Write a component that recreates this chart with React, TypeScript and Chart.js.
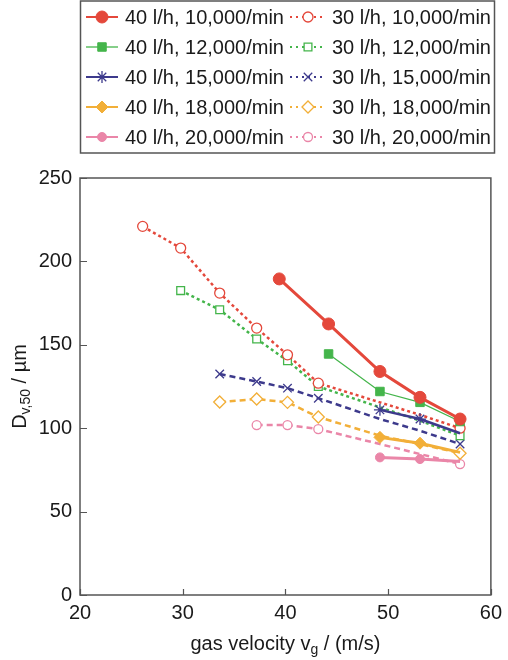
import React, { useEffect, useRef } from "react";
import { Chart, registerables } from "chart.js";
import { drawPoint } from "chart.js/helpers";

Chart.register(...registerables);

// ---- axis ticks ----
const xTicks = [20, 30, 40, 50, 60];
const yTicks = [0, 50, 100, 150, 200, 250];

// ---- legend labels ----
const labels40 = [
  "40 l/h, 10,000/min",
  "40 l/h, 12,000/min",
  "40 l/h, 15,000/min",
  "40 l/h, 18,000/min",
  "40 l/h, 20,000/min",
];
const labels30 = [
  "30 l/h, 10,000/min",
  "30 l/h, 12,000/min",
  "30 l/h, 15,000/min",
  "30 l/h, 18,000/min",
  "30 l/h, 20,000/min",
];

// ---- 40 l/h series (gas velocity, Dv50) ----
const v40_10k = [39.4, 44.2, 49.2, 53.1, 57.0];
const d40_10k = [189.5, 162.5, 134, 118.5, 105.5];
const v40_12k = [44.2, 49.2, 53.1, 57.0];
const d40_12k = [144.5, 122, 115.5, 104];
const v40_15k = [49.2, 53.1, 57.0];
const d40_15k = [111, 105.5, 97];
const v40_18k = [49.2, 53.1, 57.0];
const d40_18k = [94.5, 91, 85.5];
const v40_20k = [49.2, 53.1, 57.0];
const d40_20k = [82.5, 81.5, 80];

// ---- 30 l/h series ----
const v30_10k = [26.1, 29.8, 33.6, 37.2, 40.2, 43.2, 49.2, 53.1, 57.0];
const d30_10k = [221, 208, 181, 160, 144, 127, 115.5, 108, 100];
const v30_12k = [29.8, 33.6, 37.2, 40.2, 43.2, 49.2, 53.1, 57.0];
const d30_12k = [182.5, 171, 153.5, 140.5, 125, 112.5, 104.5, 95.5];
const v30_15k = [33.6, 37.2, 40.2, 43.2, 49.2, 53.1, 57.0];
const d30_15k = [132.5, 128, 124, 118, 105.5, 98.5, 90.5];
const v30_18k = [33.6, 37.2, 40.2, 43.2, 49.2, 53.1, 57.0];
const d30_18k = [115.7, 117.5, 115.5, 106.7, 95.5, 90.5, 85];
const v30_20k = [37.2, 40.2, 43.2, 49.2, 53.1, 57.0];
const d30_20k = [101.9, 101.9, 99.5, 90.5, 84.5, 78.5];

// indices of points whose marker is not visible in the reference
const hidden40_15k = [2];
const hidden40_18k = [2];
const hidden40_20k = [2];
const hidden30_10k = [6, 7];
const hidden30_12k = [5, 6];
const hidden30_15k = [4, 5];
const hidden30_18k = [4, 5];
const hidden30_20k = [3, 4];

const RED = "#e4483b";
const GREEN = "#44b54b";
const BLUE = "#3d3a8c";
const ORANGE = "#f2af38";
const PINK = "#ea86a8";

const FONT = "'Liberation Sans', Arial, sans-serif";

type S = {
  label: string;
  xs: number[];
  ys: number[];
  hidden: number[];
  color: string;
  width: number;
  dash: number[];
  style: string;
  radius: number;
  filled: boolean;
  pbw: number;
};

const series40: S[] = [
  { label: labels40[0], xs: v40_10k, ys: d40_10k, hidden: [], color: RED, width: 3, dash: [], style: "circle", radius: 6, filled: true, pbw: 1 },
  { label: labels40[1], xs: v40_12k, ys: d40_12k, hidden: [], color: GREEN, width: 1.3, dash: [], style: "rect", radius: 6, filled: true, pbw: 1 },
  { label: labels40[2], xs: v40_15k, ys: d40_15k, hidden: hidden40_15k, color: BLUE, width: 2.5, dash: [], style: "star", radius: 6, filled: false, pbw: 1.3 },
  { label: labels40[3], xs: v40_18k, ys: d40_18k, hidden: hidden40_18k, color: ORANGE, width: 3, dash: [], style: "rectRot", radius: 6, filled: true, pbw: 1 },
  { label: labels40[4], xs: v40_20k, ys: d40_20k, hidden: hidden40_20k, color: PINK, width: 3, dash: [], style: "circle", radius: 4.5, filled: true, pbw: 1 },
];
const series30: S[] = [
  { label: labels30[0], xs: v30_10k, ys: d30_10k, hidden: hidden30_10k, color: RED, width: 2.5, dash: [3, 3], style: "circle", radius: 5, filled: false, pbw: 1.3 },
  { label: labels30[1], xs: v30_12k, ys: d30_12k, hidden: hidden30_12k, color: GREEN, width: 2.5, dash: [3, 3], style: "rect", radius: 5.5, filled: false, pbw: 1.3 },
  { label: labels30[2], xs: v30_15k, ys: d30_15k, hidden: hidden30_15k, color: BLUE, width: 2.5, dash: [6, 4], style: "crossRot", radius: 6, filled: false, pbw: 1.3 },
  { label: labels30[3], xs: v30_18k, ys: d30_18k, hidden: hidden30_18k, color: ORANGE, width: 2.5, dash: [6, 4], style: "rectRot", radius: 6, filled: false, pbw: 1.3 },
  { label: labels30[4], xs: v30_20k, ys: d30_20k, hidden: hidden30_20k, color: PINK, width: 2.5, dash: [6, 4], style: "circle", radius: 4.5, filled: false, pbw: 1.3 },
];

function toDataset(s: S) {
  return {
    label: s.label,
    data: s.xs.map((x, i) => ({ x, y: s.ys[i] })),
    borderColor: s.color,
    backgroundColor: s.filled ? s.color : "#ffffff",
    borderWidth: s.width,
    borderDash: s.dash,
    pointStyle: s.style,
    pointRadius: s.hidden.length
      ? (c: any) => (s.hidden.includes(c.dataIndex) ? 0 : s.radius)
      : s.radius,
    pointBorderColor: s.color,
    pointBackgroundColor: s.filled ? s.color : "#ffffff",
    pointBorderWidth: s.pbw,
    tension: 0,
    fill: false,
  };
}

const framePlugin = {
  id: "frame",
  beforeDatasetsDraw(chart: any) {
    const { ctx, chartArea: a, scales } = chart;
    ctx.save();
    ctx.strokeStyle = "#555";
    ctx.lineWidth = 1.5;
    ctx.strokeRect(a.left, a.top, a.right - a.left, a.bottom - a.top);
    ctx.lineWidth = 1.2;
    ctx.beginPath();
    xTicks.forEach((v) => {
      const px = Math.round(scales.x.getPixelForValue(v)) + 0.5;
      ctx.moveTo(px, a.bottom);
      ctx.lineTo(px, a.bottom - 6);
    });
    yTicks.forEach((v) => {
      const py = Math.round(scales.y.getPixelForValue(v)) + 0.5;
      ctx.moveTo(a.left, py);
      ctx.lineTo(a.left + 7, py);
    });
    ctx.stroke();
    ctx.restore();
  },
  afterDraw(chart: any) {
    const { ctx, chartArea: a } = chart;
    ctx.save();
    ctx.fillStyle = "#1a1a1a";
    // x title with subscript
    const main = "gas velocity v";
    const sub = "g";
    const rest = " / (m/s)";
    ctx.font = `20px ${FONT}`;
    const w1 = ctx.measureText(main).width;
    const w3 = ctx.measureText(rest).width;
    ctx.font = `14px ${FONT}`;
    const w2 = ctx.measureText(sub).width;
    const total = w1 + w2 + w3;
    const x0 = (a.left + a.right) / 2 - total / 2;
    const by = 650;
    ctx.textBaseline = "alphabetic";
    ctx.textAlign = "left";
    ctx.font = `20px ${FONT}`;
    ctx.fillText(main, x0, by);
    ctx.font = `14px ${FONT}`;
    ctx.fillText(sub, x0 + w1, by + 4);
    ctx.font = `20px ${FONT}`;
    ctx.fillText(rest, x0 + w1 + w2, by);

    // y title rotated
    const ym = "D";
    const ys = "v,50";
    const yr = " / \u00b5m";
    ctx.font = `20px ${FONT}`;
    const u1 = ctx.measureText(ym).width;
    const u3 = ctx.measureText(yr).width;
    ctx.font = `14px ${FONT}`;
    const u2 = ctx.measureText(ys).width;
    const ut = u1 + u2 + u3;
    ctx.save();
    ctx.translate(26, (a.top + a.bottom) / 2);
    ctx.rotate(-Math.PI / 2);
    const s0 = -ut / 2;
    ctx.font = `20px ${FONT}`;
    ctx.fillText(ym, s0, 0);
    ctx.font = `14px ${FONT}`;
    ctx.fillText(ys, s0 + u1, 4);
    ctx.font = `20px ${FONT}`;
    ctx.fillText(yr, s0 + u1 + u2, 0);
    ctx.restore();

    // legend box
    ctx.strokeStyle = "#555";
    ctx.lineWidth = 1.5;
    ctx.strokeRect(80.5, 1, 414, 152);
    const cols = [
      { list: series40, l1: 86, l2: 118, m: 102, t: 125 },
      { list: series30, l1: 290, l2: 325, m: 308, t: 332 },
    ];
    cols.forEach((col) => {
      col.list.forEach((s, i) => {
        const y = 17 + i * 30;
        ctx.save();
        ctx.strokeStyle = s.color;
        ctx.lineWidth = s.dash.length ? 2 : Math.min(s.width, 2);
        ctx.setLineDash(s.dash.length ? [2, 4] : []);
        ctx.beginPath();
        ctx.moveTo(col.l1, y);
        ctx.lineTo(col.l2, y);
        ctx.stroke();
        ctx.setLineDash([]);
        ctx.fillStyle = s.filled ? s.color : "#ffffff";
        ctx.strokeStyle = s.color;
        ctx.lineWidth = s.pbw;
        drawPoint(ctx, { pointStyle: s.style as any, radius: s.radius, rotation: 0, borderWidth: s.pbw } as any, col.m, y);
        ctx.restore();
        ctx.fillStyle = "#1a1a1a";
        ctx.font = `20px ${FONT}`;
        ctx.textBaseline = "middle";
        ctx.textAlign = "left";
        ctx.fillText(s.label, col.t, y + 1);
      });
    });
    ctx.restore();
  },
};

export default function App() {
  const ref = useRef<HTMLCanvasElement | null>(null);
  useEffect(() => {
    if (!ref.current) return;
    const datasets = [...series40.map(toDataset), ...series30.map(toDataset)];
    const chart = new Chart(ref.current, {
      type: "line",
      data: { datasets },
      options: {
        animation: false,
        responsive: true,
        maintainAspectRatio: false,
        layout: { padding: { left: 0, right: 12, top: 178, bottom: 0 } },
        plugins: {
          legend: { display: false },
          tooltip: { enabled: false },
          title: { display: false },
        },
        scales: {
          x: {
            type: "linear",
            min: 20,
            max: 60,
            afterBuildTicks: (scale: any) => {
              scale.ticks = xTicks.map((v) => ({ value: v }));
            },
            afterFit: (scale: any) => {
              scale.height = 65;
            },
            grid: { display: false, drawTicks: false },
            border: { display: false },
            ticks: {
              font: { family: FONT, size: 20 },
              color: "#1a1a1a",
              padding: 6,
              maxRotation: 0,
            },
          },
          y: {
            type: "linear",
            min: 0,
            max: 250,
            afterBuildTicks: (scale: any) => {
              scale.ticks = yTicks.map((v) => ({ value: v }));
            },
            afterFit: (scale: any) => {
              scale.width = 80;
            },
            grid: { display: false, drawTicks: false },
            border: { display: false },
            ticks: {
              font: { family: FONT, size: 20 },
              color: "#1a1a1a",
              padding: 8,
            },
          },
        },
      },
      plugins: [framePlugin],
    });
    return () => chart.destroy();
  }, []);
  return (
    <div style={{ position: "absolute", left: 0, top: 0, width: 508, height: 660 }}>
      <canvas ref={ref} />
    </div>
  );
}
